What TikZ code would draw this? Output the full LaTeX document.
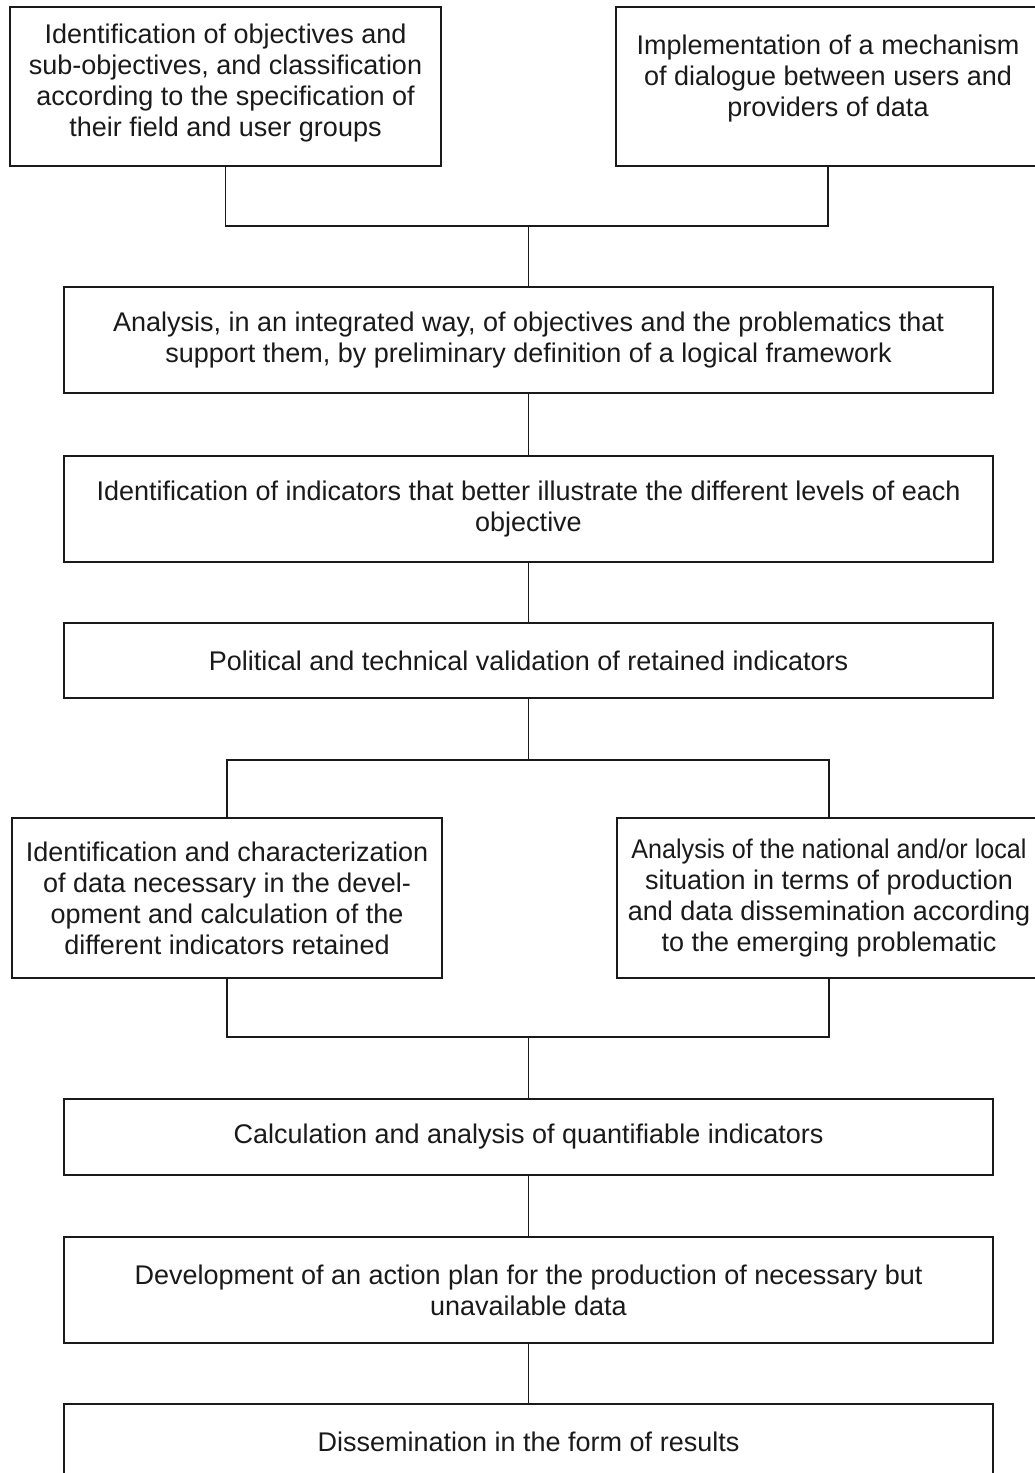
\documentclass[tikz,border=0pt]{standalone}
\usepackage{fontspec}
\usepackage{graphicx}
\setmainfont{Liberation Sans}
\definecolor{ink}{HTML}{1A1A1A}
\tikzset{
  box/.style={draw=ink, line width=2.2pt, inner sep=0pt, align=center,
    text=ink, font={\fontsize{27pt}{31pt}\selectfont}},
  wide/.style={box, minimum width=929pt},
  side/.style={box, minimum width=429pt, minimum height=160pt},
  link/.style={draw=ink, line width=1.9pt}
}
\begin{document}
\begin{tikzpicture}[x=1pt,y=-1pt]
\clip (0,0) rectangle (1035,1473);
\fill[white] (0,0) rectangle (1035,1473);
% top pair
\node[side, minimum width=431pt, minimum height=159pt, text depth=12.7pt] (b1) at (225.5,86.5)
  {Identification of objectives and\\sub-objectives, and classification\\according to the specification of\\their field and user groups};
\node[side, minimum width=424pt, minimum height=159pt, text depth=21.7pt] (b2) at (828,86.5)
  {Implementation of a mechanism\\of dialogue between users and\\providers of data};
\coordinate (j1) at (528.5,226);
% main column
\node[wide, minimum height=106pt] (b3) at (528.5,340)
  {Analysis, in an integrated way, of objectives and the problematics that\\support them, by preliminary definition of a logical framework};
\node[wide, minimum height=106pt] (b4) at (528.5,509)
  {Identification of indicators that better illustrate the different levels of each\\objective};
\node[wide, minimum height=75pt] (b5) at (528.5,660.5)
  {Political and technical validation of retained indicators};
\coordinate (j2) at (528.5,760);
% second pair
\node[side, minimum width=430pt] (b6) at (227,898)
  {Identification and characterization\\of data necessary in the devel-\\opment and calculation of the\\different indicators retained};
\node[side, minimum width=424pt] (b7) at (829,898)
  {\scalebox{0.93}[1]{Analysis of the national and/or local}\\situation in terms of production\\and data dissemination according\\to the emerging problematic};
\coordinate (j3) at (528.5,1037);
\node[wide, minimum height=76pt] (b8) at (528.5,1137)
  {Calculation and analysis of quantifiable indicators};
\node[wide, minimum height=106pt] (b9) at (528.5,1290)
  {Development of an action plan for the production of necessary but\\unavailable data};
\node[wide, minimum height=76pt] (b10) at (528.5,1442)
  {Dissemination in the form of results};
% connectors
\draw[link] (b1.south) |- (j1) -| (b2.south);
\draw[link] (j1) -- (b3.north);
\draw[link] (b3.south) -- (b4.north);
\draw[link] (b4.south) -- (b5.north);
\draw[link] (b5.south) -- (j2);
\draw[link] (b6.north) |- (j2) -| (b7.north);
\draw[link] (b6.south) |- (j3) -| (b7.south);
\draw[link] (j3) -- (b8.north);
\draw[link] (b8.south) -- (b9.north);
\draw[link] (b9.south) -- (b10.north);
\end{tikzpicture}
\end{document}
